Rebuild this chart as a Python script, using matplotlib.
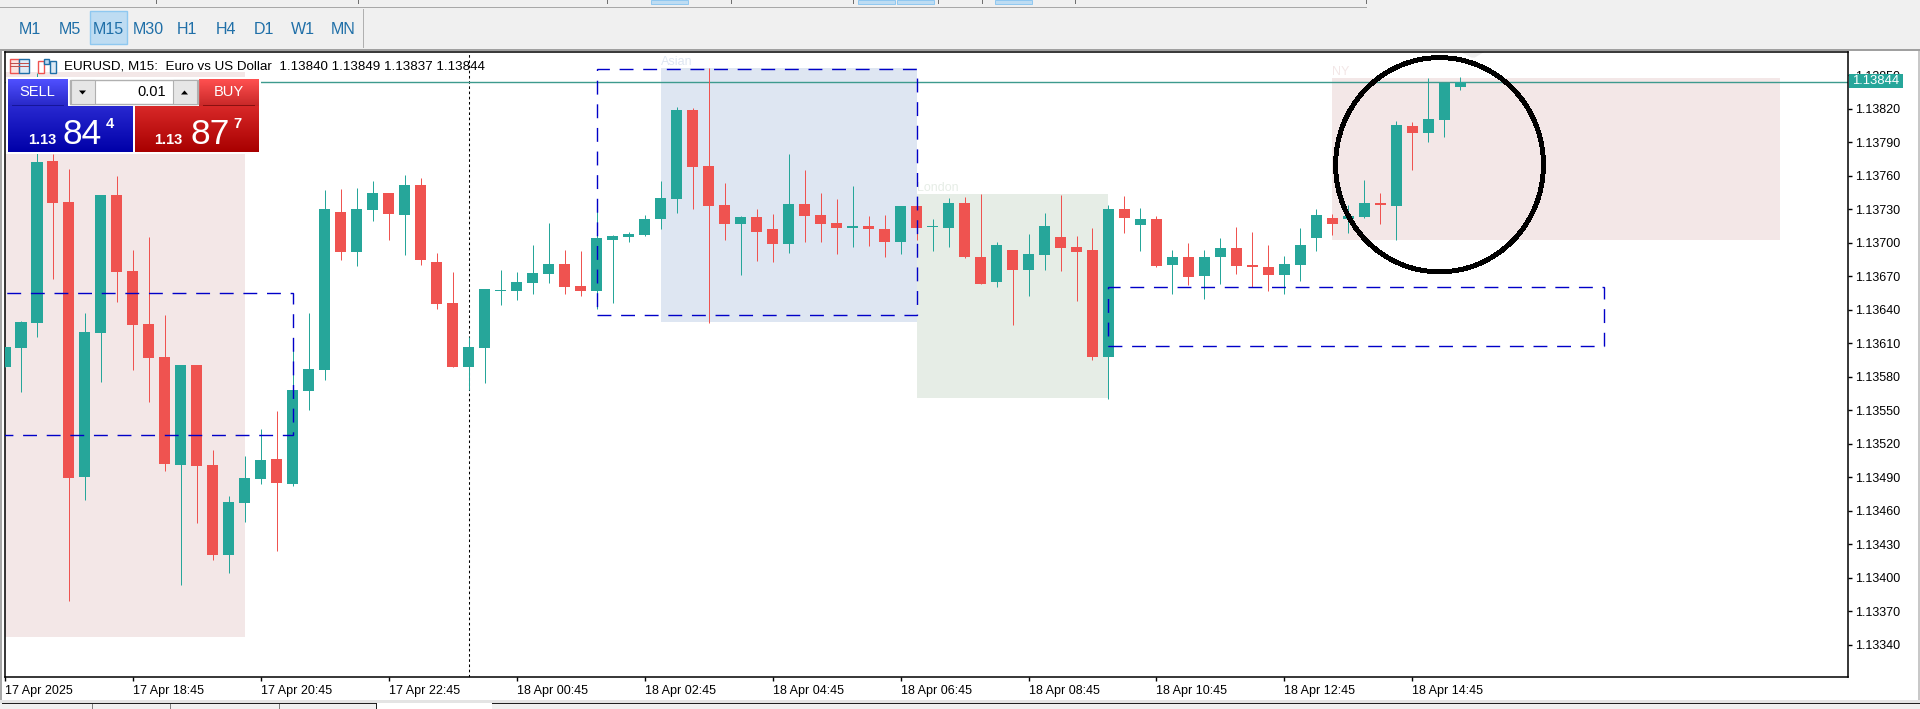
import numpy as np
import matplotlib
matplotlib.use("Agg")
import matplotlib.pyplot as plt
from matplotlib.patches import Rectangle, Ellipse, Polygon
from matplotlib.colors import LinearSegmentedColormap

plt.rcParams['font.family'] = ['Liberation Sans', 'DejaVu Sans']

# ---------- data: prices in points above 1.13340 ----------
BASE_PRICE = 1.13340
opens = [249,266,288,433,397,150,279,403,335,287,
         258,161,251,161,80,127,148,166,144,227,
         246,388,352,389,405,385,412,343,306,249,
         266,317,317,324,332,341,321,317,363,365,
         367,381,399,479,429,394,377,383,372,359,
         395,385,378,373,375,372,361,393,374,373,
         396,347,325,354,336,349,365,356,354,258,
         390,376,381,340,347,330,347,355,340,338,
         331,340,364,382,381,383,396,393,465,458,
         470,500]
closes = [267,289,432,396,149,280,403,334,286,257,
          162,251,160,80,128,149,165,145,228,247,
          390,352,390,405,386,412,345,305,249,267,
          319,318,325,333,341,320,317,364,366,368,
          381,400,479,428,393,377,383,370,359,395,
          384,377,373,375,372,361,393,373,375,396,
          347,323,358,336,350,375,355,352,258,390,
          382,381,339,347,329,347,355,339,338,331,
          341,358,385,377,384,396,394,466,458,471,
          503,504]
highs = [267,290,512,440,426,297,403,420,354,365,
         295,251,251,174,133,169,193,209,273,297,
         407,408,409,415,405,421,418,351,334,276,
         319,336,334,358,378,354,353,392,367,370,
         385,415,482,481,517,414,384,390,386,440,
         425,405,399,411,384,385,393,393,381,400,
         401,404,361,354,368,387,403,366,373,394,
         402,391,384,354,360,354,364,374,370,358,
         348,373,390,386,394,416,405,469,468,508,
         503,509]
lows = [249,226,276,328,39,130,235,307,246,217,
        156,53,109,76,64,110,144,84,142,210,
        237,345,339,380,363,349,340,301,249,228,
        234,304,309,314,324,314,312,301,306,361,
        366,372,387,390,288,363,331,344,343,351,
        361,361,350,356,357,347,350,363,353,356,
        346,323,320,286,312,336,335,308,255,220,
        369,353,338,314,322,310,323,332,320,317,
        314,326,353,367,369,382,377,363,425,450,
        455,497]
tick_labels = ['17 Apr 2025','17 Apr 18:45','17 Apr 20:45','17 Apr 22:45',
               '18 Apr 00:45','18 Apr 02:45','18 Apr 04:45','18 Apr 06:45',
               '18 Apr 08:45','18 Apr 10:45','18 Apr 12:45','18 Apr 14:45']
price_ticks = [1.13340,1.13370,1.13400,1.13430,1.13460,1.13490,1.13520,1.13550,1.13580,
               1.13610,1.13640,1.13670,1.13700,1.13730,1.13760,1.13790,1.13820,1.13850]
bid_price = 1.13844
header = 'EURUSD, M15:  Euro vs US Dollar  1.13840 1.13849 1.13837 1.13844'
timeframes = ['M1','M5','M15','M30','H1','H4','D1','W1','MN']
# session boxes: bar start, bar end, top points, bottom points
sessions = {'pre':(-1,15,513,7), 'Asian':(41,57,517,289), 'London':(57,69,404,221), 'NY':(83,111,508,363)}
session_colors = {'pre':'#F3E7E7','Asian':'#DEE6F2','London':'#E6EDE6','NY':'#F3E7E7'}
dashed_boxes = [(-1,18,315,188),(37,57,516,295),(69,100,320,268)]
cursor_bar = 29
circle = (89.7,430,13.0,192)

W, H = 1920, 709
TEAL, RED = '#26A69A', '#EF5350'
px = lambda p: BASE_PRICE + np.asarray(p)/1e5

fig = plt.figure(figsize=(W/100, H/100), dpi=100, facecolor='white')
ax = fig.add_axes([5/W, (H-677)/H, (1848.3-5)/W, (677-52)/H])
ax.set_xlim(0.05, 115.26)
ax.set_ylim(px(-29), px(531))

o, c, h, l = map(np.asarray, (opens, closes, highs, lows))
x = np.arange(len(o))
up = c >= o
colors = np.where(up, TEAL, RED)

for name, (x0, x1, top, bot) in sessions.items():
    ax.add_patch(Rectangle((x0, px(bot)), x1-x0, px(top)-px(bot), fc=session_colors[name], ec='none', zorder=1))
    if name != 'pre':
        ax.text(x0, px(top)+1e-6, name, color=session_colors[name], fontsize=9, va='bottom', ha='left', zorder=1)

ax.axvline(cursor_bar, color='black', lw=0.75, ls=(0,(2.5,2.5)), zorder=2)
ax.axhline(bid_price + 0.5e-5, color='#3D9A8E', lw=1.0, zorder=2.5)

ax.vlines(x, px(l), px(h), colors=colors, lw=0.72, zorder=3)
ax.bar(x, px(np.abs(c-o).clip(1)) - BASE_PRICE, width=0.69, bottom=px(np.minimum(o, c)),
       color=colors, lw=0, zorder=4, antialiased=False)

for (x0, x1, top, bot) in dashed_boxes:
    ax.add_patch(Rectangle((x0, px(bot)), x1-x0, px(top)-px(bot), fc='none', ec='#0000C8', lw=1.0,
                           ls=(0,(10,7)), zorder=5))
cx, cy, cw, ch = circle
ax.add_patch(Ellipse((cx, px(cy)), cw, ch/1e5, fc='none', ec='black', lw=2.8, zorder=6, antialiased=False))
ax.add_patch(Polygon([[91.0,px(531)],[91.7,px(526)],[91.9,px(526)],[92.5,px(531)]], closed=True, fc='#EEEEEE', ec='none', zorder=2))

ax.yaxis.tick_right()
ax.set_yticks(price_ticks)
ax.set_yticklabels([f'{v:.5f}' for v in price_ticks], fontsize=9)
ax.set_xticks(x[::8][:len(tick_labels)])
ax.set_xticklabels(tick_labels, fontsize=9, ha='left')
ax.tick_params(axis='y', length=3.2, width=1, pad=1.5, color='black')
ax.tick_params(axis='x', length=3.2, width=1, pad=2.5, color='black')
for s in ax.spines.values():
    s.set_linewidth(1.1); s.set_color('black')

# ---------- window chrome, in pixel coordinates ----------
ui = fig.add_axes([0, 0, 1, 1], zorder=10)
ui.patch.set_alpha(0)
ui.axis('off')

def box(x0, y0, x1, y1, fc, ec='none', lw=0, z=1, **kw):
    ui.add_patch(Rectangle((x0, y0), x1-x0, y1-y0, fc=fc, ec=ec, lw=lw, zorder=z, **kw))

def grad(x0, y0, x1, y1, c0, c1, z=2):
    cm = LinearSegmentedColormap.from_list('g', [c0, c1])
    ui.imshow(np.linspace(0, 1, 64)[:, None], extent=(x0, x1, y1, y0), cmap=cm, aspect='auto', zorder=z,
              interpolation='bilinear')

GREY = '#F0F0F0'
box(0, 0, W, 49, GREY)
box(0, 49, W, 51, '#A0A0A0')
box(0, 7, 1367, 8, '#A8A8A8')
for xs in (156, 357.5, 607, 730.6, 853, 937.8, 982, 1074.5, 1365.5):
    box(xs, 0, xs+1, 4, '#707070', z=2)
for x0, x1 in ((650.8, 688), (858, 895), (897, 933.6), (995, 1031.6)):
    box(x0, 0, x1, 3.7, '#BEDCF2', '#8FC8F0', 0.7, z=2)
box(363, 9, 364, 48, '#B0B0B0', z=2)
box(90, 11, 126.5, 44, '#BEDCF2', '#8FC8F0', 1, z=2)
for label, xc in zip(timeframes, (30, 70, 108, 148, 186.5, 226, 264, 303, 343)):
    ui.text(xc, 30, label, color='#1F6FA8', fontsize=11.5, ha='center', va='center', zorder=3)

box(0, 51, 2, 700, '#A8A8A8')
box(1918, 51, W, 700, '#C8C8C8')
box(0, 700, W, 703, '#E4E4E4')
box(0, 703, 376, H, GREY, z=2)
box(2, 703, 376, 703.8, '#202020', z=3)
box(376, 703, 377, H, '#202020', z=3)
for xs in (92, 170, 278.6):
    box(xs, 704, xs+1, H, '#808080', z=3)
box(376, 703, 492, H, 'white', z=1)
box(492, 703, W, H, GREY, z=2)
box(492, 703, W, 703.8, '#202020', z=3)
box(491.5, 703, 492.3, H, '#202020', z=3)

# price tag
box(1848.7, 74, 1902.5, 88, TEAL, z=3)
ui.text(1852.5, 81.3, f'{bid_price:.5f}', color='white', fontsize=9.4, ha='left', va='center', zorder=4)

# header
ui.text(63.7, 66.7, header, color='black', fontsize=9.6, ha='left', va='center', zorder=4)
for a, e in (('#EF5350', '#1F6FA8'),):
    box(10, 59, 19, 73, '#FBE3E0', a, 1, z=4)
    box(19, 59, 28.5, 73, '#DCE9F5', e, 1, z=4)
    for yy in (63, 66, 69.5):
        box(10, yy, 28.5, yy+0.9, '#C0504D', z=5)
    box(37.5, 61, 44, 73, 'white', a, 1, z=4)
    box(44, 59, 49, 64, '#BFD9EE', e, 1, z=4)
    box(49.5, 61, 55.5, 73, '#DCE9F5', e, 1, z=4)

# one-click trading panel
box(5.5, 77, 261, 154, 'white', z=1.5)
grad(8, 79, 68, 106, '#5050FF', '#2828C8')
grad(8, 106, 133, 152, '#2828D0', '#0000A8')
grad(199, 79, 259, 106, '#FF5050', '#C82828')
grad(135, 106, 259, 152, '#D82828', '#A80000')
box(12, 105, 64, 105.8, '#16169A', z=3)
box(203, 105, 255, 105.8, '#8A1010', z=3)
ui.text(37, 92, 'SELL', color='white', fontsize=10.5, ha='center', va='center', zorder=4)
ui.text(228.6, 92, 'BUY', color='white', fontsize=10.5, ha='center', va='center', zorder=4)
box(70, 79.5, 197.5, 104, 'white', '#B0B0B0', 1, z=3)
box(71, 80, 94.5, 103.5, '#E6E6E6', '#B0B0B0', 0.8, z=3)
box(172.5, 80, 197, 103.5, '#E6E6E6', '#B0B0B0', 0.8, z=3)
ui.add_patch(Polygon([[79, 90.5], [86, 90.5], [82.5, 94.5]], fc='black', ec='none', zorder=4))
ui.add_patch(Polygon([[181, 94.5], [188, 94.5], [184.5, 90.5]], fc='black', ec='none', zorder=4))
ui.text(166, 92, '0.01', color='black', fontsize=10.5, ha='right', va='center', zorder=4)
for (xa, xb, xc, big, small) in ((28.5, 63, 106, '84', '4'), (154, 190, 233, '87', '7')):
    ui.text(xa, 143.5, '1.13', color='white', fontsize=10.5, fontweight='bold', ha='left', va='baseline', zorder=4)
    ui.text(xb, 143.5, big, color='white', fontsize=25.5, ha='left', va='baseline', zorder=4)
    ui.text(xc, 127.5, small, color='white', fontsize=10.5, fontweight='bold', ha='left', va='baseline', zorder=4)

ui.set_xlim(0, W)
ui.set_ylim(H, 0)

fig.savefig('out.png', dpi=100, facecolor='white')
